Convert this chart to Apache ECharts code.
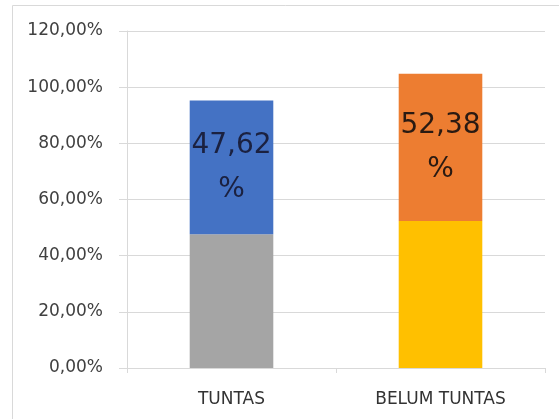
<!DOCTYPE html>
<html>
<head>
<meta charset="utf-8">
<script src="https://cdn.jsdelivr.net/npm/echarts@6/dist/echarts.min.js"></script>
<style>
  html, body { margin: 0; padding: 0; background: #fff; overflow: hidden; }
  #chart { width: 559px; height: 419px; }
</style>
</head>
<body>
<div id="chart"></div>
<script>
const categories = ['TUNTAS', 'BELUM TUNTAS']
const bottomValues = [47.62, 52.38]
const topValues = [47.62, 52.38]
const bottomColors = ['#A5A5A5', '#FFC000']
const topColors = ['#4472C4', '#ED7D31']
const labelColors = ['#1b2140', '#2a1a12']
const yTicks = [0, 20, 40, 60, 80, 100, 120]

// 47.62 -> "47,62"
const fmt = v => v.toFixed(2).replace('.', ',')

const chart = echarts.init(document.getElementById('chart'))
chart.setOption({
  animation: false,
  // chart-area frame, only its top and left edges are inside the picture
  graphic: [
    { type: 'line', shape: { x1: 12.5, y1: 5.5, x2: 559, y2: 5.5 }, style: { stroke: '#d9d9d9', lineWidth: 1 } },
    { type: 'line', shape: { x1: 12.5, y1: 5.5, x2: 12.5, y2: 419 }, style: { stroke: '#d9d9d9', lineWidth: 1 } }
  ],
  grid: { left: 127, right: 14, top: 31, bottom: 51 },
  xAxis: {
    type: 'category',
    data: categories,
    axisLine: { lineStyle: { color: '#d9d9d9', width: 1 } },
    axisTick: { show: true, length: 5, lineStyle: { color: '#d9d9d9' } },
    axisLabel: { color: '#333', fontSize: 17, fontFamily: 'DejaVu Sans', margin: 23 }
  },
  yAxis: {
    type: 'value',
    min: yTicks[0],
    max: yTicks[yTicks.length - 1],
    interval: 20,
    axisLine: { show: true, lineStyle: { color: '#d9d9d9' } },
    axisTick: { show: true, length: 8, lineStyle: { color: '#d9d9d9' } },
    splitLine: { lineStyle: { color: '#d9d9d9' } },
    axisLabel: {
      color: '#404040', fontSize: 17, fontFamily: 'DejaVu Sans', margin: 24,
      formatter: v => fmt(v) + '%'
    }
  },
  series: [
    {
      type: 'bar',
      stack: 'a',
      barWidth: '40%',
      data: bottomValues.map((v, i) => ({ value: v, itemStyle: { color: bottomColors[i] } }))
    },
    {
      type: 'bar',
      stack: 'a',
      barWidth: '40%',
      data: topValues.map((v, i) => ({
        value: v,
        itemStyle: { color: topColors[i] },
        label: {
          show: true,
          position: 'inside',
          color: labelColors[i],
          fontSize: 28,
          lineHeight: 44,
          fontFamily: 'DejaVu Sans',
          overflow: 'none',
          formatter: () => fmt(v) + '\n%'
        }
      }))
    }
  ]
})
</script>
</body>
</html>
